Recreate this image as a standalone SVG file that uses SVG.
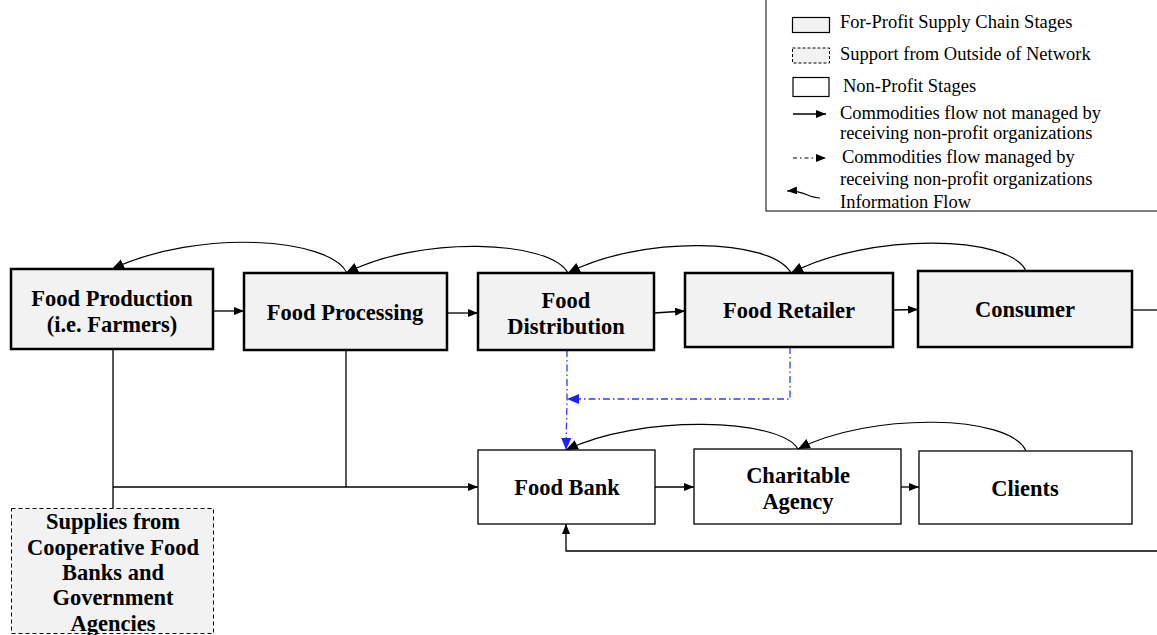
<svg xmlns="http://www.w3.org/2000/svg" width="1157" height="635" viewBox="0 0 1157 635">
  <style>
    .profit { fill: #f2f2f2; stroke: #000; stroke-width: 2.5; }
    .npo { fill: #fff; stroke: #000; stroke-width: 1.3; }
    .outside { fill: #f2f2f2; stroke: #000; stroke-width: 1; stroke-dasharray: 4 3; }
    .lbl { font-family: "Liberation Serif", "Times New Roman", serif; font-weight: bold; font-size: 22.5px; fill: #000; text-anchor: middle; }
    .leg { font-family: "Liberation Serif", "Times New Roman", serif; font-size: 18.5px; fill: #000; }
    .flow { fill: none; stroke: #000; stroke-width: 1.3; }
    .info { fill: none; stroke: #000; stroke-width: 1.2; }
    .managed { fill: none; stroke: #3838ff; stroke-width: 1.3; stroke-dasharray: 7 3 1.5 3; }
  </style>
  <defs>
    <marker id="arr" markerUnits="userSpaceOnUse" markerWidth="12" markerHeight="10" refX="10" refY="4" orient="auto">
      <path d="M0,0 L10,4 L0,8 Z" fill="#000"/>
    </marker>
    <marker id="arrBig" markerUnits="userSpaceOnUse" markerWidth="14" markerHeight="12" refX="12" refY="5" orient="auto">
      <path d="M0,0 L12,5 L0,10 Z" fill="#000"/>
    </marker>
    <marker id="arrBlue" markerUnits="userSpaceOnUse" markerWidth="14" markerHeight="12" refX="12" refY="5" orient="auto">
      <path d="M0,0 L12,5 L0,10 Z" fill="#2020ff"/>
    </marker>
  </defs>

  <rect width="1157" height="635" fill="#fff"/>

  <!-- legend -->
  <g id="legend">
    <rect x="766" y="-2" width="400" height="213" fill="#fff" stroke="#000" stroke-width="1"/>
    <rect x="792.5" y="17.5" width="37" height="15" fill="#f2f2f2" stroke="#000" stroke-width="1.2"/>
    <text class="leg" x="840" y="28">For-Profit Supply Chain Stages</text>
    <rect x="792.5" y="48" width="37" height="15" fill="#f2f2f2" stroke="#000" stroke-width="1" stroke-dasharray="3 2"/>
    <text class="leg" x="840" y="60">Support from Outside of Network</text>
    <rect x="793" y="77.5" width="36" height="19" fill="#fff" stroke="#000" stroke-width="1.2"/>
    <text class="leg" x="843" y="92">Non-Profit Stages</text>
    <line x1="793" y1="114" x2="826" y2="114" class="flow" marker-end="url(#arr)"/>
    <text class="leg" x="840" y="119">Commodities flow not managed by</text>
    <text class="leg" x="840" y="139">receiving non-profit organizations</text>
    <line x1="793" y1="158" x2="826" y2="158" fill="none" stroke="#000" stroke-width="1.2" stroke-dasharray="4 3 1.5 3" marker-end="url(#arr)"/>
    <text class="leg" x="842" y="163">Commodities flow managed by</text>
    <text class="leg" x="840" y="185">receiving non-profit organizations</text>
    <path d="M820,198 C808,198 804,190 787,191" class="info" marker-end="url(#arr)"/>
    <text class="leg" x="840" y="208">Information Flow</text>
  </g>

  <!-- connectors -->
  <g id="connectors">
    <!-- commodities flow along the supply chain -->
    <line x1="213" y1="311" x2="244" y2="311" class="flow" marker-end="url(#arr)"/>
    <line x1="447" y1="313" x2="478" y2="313" class="flow" marker-end="url(#arr)"/>
    <line x1="654" y1="313" x2="685" y2="311" class="flow" marker-end="url(#arr)"/>
    <line x1="893" y1="310" x2="918" y2="309.5" class="flow" marker-end="url(#arr)"/>
    <line x1="1132" y1="310" x2="1157" y2="310" class="flow"/>

    <!-- information flow back up the chain -->
    <path d="M347,273 C330,238 200,228 112,269" class="info" marker-end="url(#arrBig)"/>
    <path d="M568,273 C550,240 420,235 346,273" class="info" marker-end="url(#arrBig)"/>
    <path d="M791,273 C772,238 640,235 568,273" class="info" marker-end="url(#arrBig)"/>
    <path d="M1026,271 C1010,235 870,232 791,273" class="info" marker-end="url(#arrBig)"/>
    <path d="M798,449 C780,418 640,414 566,450" class="info" marker-end="url(#arrBig)"/>
    <path d="M1026,451 C1010,414 870,412 798,449" class="info" marker-end="url(#arrBig)"/>

    <!-- donations into the food bank -->
    <line x1="113" y1="349" x2="113" y2="508" class="flow"/>
    <line x1="346" y1="350" x2="346" y2="487" class="flow"/>
    <line x1="113" y1="487" x2="478" y2="487" class="flow" marker-end="url(#arr)"/>

    <!-- non-profit flow -->
    <line x1="655" y1="487" x2="694" y2="487" class="flow" marker-end="url(#arr)"/>
    <line x1="901" y1="487" x2="919" y2="487" class="flow" marker-end="url(#arr)"/>
    <polyline points="1157,551 566,551 566,524" class="flow" marker-end="url(#arr)"/>

    <!-- flows managed by the food bank -->
    <polyline points="567,350 567,399 566,450" class="managed" marker-end="url(#arrBlue)"/>
    <polyline points="790,347 790,399 567,399" class="managed" marker-end="url(#arrBlue)"/>
  </g>

  <!-- for-profit stages -->
  <g id="food-production">
    <rect x="11" y="269" width="202" height="80" class="profit"/>
    <text class="lbl" x="112" y="306">Food Production</text>
    <text class="lbl" x="112" y="332">(i.e. Farmers)</text>
  </g>
  <g id="food-processing">
    <rect x="244" y="273" width="203" height="77" class="profit"/>
    <text class="lbl" x="345" y="320">Food Processing</text>
  </g>
  <g id="food-distribution">
    <rect x="478" y="273" width="176" height="77" class="profit"/>
    <text class="lbl" x="566" y="308">Food</text>
    <text class="lbl" x="566" y="334">Distribution</text>
  </g>
  <g id="food-retailer">
    <rect x="685" y="273" width="208" height="74" class="profit"/>
    <text class="lbl" x="789" y="318">Food Retailer</text>
  </g>
  <g id="consumer">
    <rect x="918" y="271" width="214" height="76" class="profit"/>
    <text class="lbl" x="1025" y="317">Consumer</text>
  </g>

  <!-- non-profit stages -->
  <g id="food-bank">
    <rect x="478" y="450" width="177" height="74" class="npo"/>
    <text class="lbl" x="567" y="495">Food Bank</text>
  </g>
  <g id="charitable-agency">
    <rect x="694" y="449" width="207" height="75" class="npo"/>
    <text class="lbl" x="798" y="483">Charitable</text>
    <text class="lbl" x="798" y="509">Agency</text>
  </g>
  <g id="clients">
    <rect x="919" y="451" width="213" height="73" class="npo"/>
    <text class="lbl" x="1025" y="496">Clients</text>
  </g>

  <!-- outside support -->
  <g id="outside-supplies">
    <rect x="11.5" y="508.5" width="202" height="125" class="outside"/>
    <text class="lbl" x="113" y="529">Supplies from</text>
    <text class="lbl" x="113" y="555">Cooperative Food</text>
    <text class="lbl" x="113" y="580">Banks and</text>
    <text class="lbl" x="113" y="605">Government</text>
    <text class="lbl" x="113" y="631">Agencies</text>
  </g>
</svg>
